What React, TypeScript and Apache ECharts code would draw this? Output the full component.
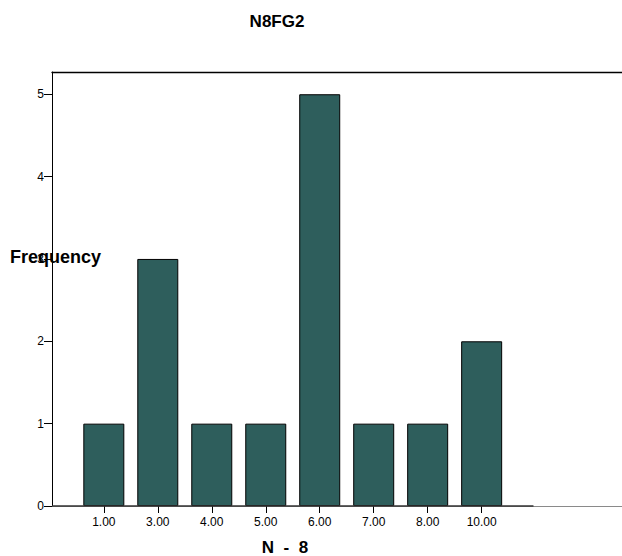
import React, { useEffect, useRef } from "react";
import * as echarts from "echarts";

const categories = ["1.00", "3.00", "4.00", "5.00", "6.00", "7.00", "8.00", "10.00"];
const frequencies = [1, 3, 1, 1, 5, 1, 1, 2];
const yTicks = [0, 1, 2, 3, 4, 5];
const titleText = "N8FG2";
const xTitle = "N  -  8";
const yTitle = "Frequency";

export default function App() {
  const ref = useRef<HTMLDivElement>(null);
  useEffect(() => {
    if (!ref.current) return;
    const chart = echarts.init(ref.current, null, { renderer: "svg" });
    const positions = categories.map((_, i) => i + 1);
    const font = "Liberation Sans, Arial, sans-serif";
    const xMin = 0.04;
    const xMax = 10.6;
    chart.setOption({
      animation: false,
      backgroundColor: "#ffffff",
      grid: { left: 52, top: 72, bottom: 50, right: 0, show: false },
      xAxis: [
        {
          type: "value",
          min: xMin,
          max: xMax,
          axisLine: { show: true, lineStyle: { color: "#8a8a8a", width: 1 } },
          axisTick: { show: true, length: 7, customValues: positions, lineStyle: { color: "#000" } },
          axisLabel: {
            customValues: positions,
            margin: 10,
            color: "#000",
            fontSize: 12,
            fontFamily: font,
            formatter: (v: number) => categories[Math.round(v) - 1] ?? "",
          },
          splitLine: { show: false },
        },
        {
          type: "value",
          position: "top",
          min: xMin,
          max: xMax,
          axisLine: { show: true, lineStyle: { color: "#000", width: 1.3 } },
          axisTick: { show: false },
          axisLabel: { show: false },
          splitLine: { show: false },
        },
      ],
      yAxis: {
        type: "value",
        min: 0,
        max: 5.27,
        interval: 1,
        axisLine: { show: true, lineStyle: { color: "#000", width: 1 } },
        axisTick: { show: true, length: 8, customValues: yTicks, lineStyle: { color: "#000" } },
        axisLabel: { customValues: yTicks, color: "#000", fontSize: 12, fontFamily: font, margin: 8 },
        splitLine: { show: false },
      },
      graphic: [
        {
          type: "text",
          x: 277,
          y: 21,
          style: { text: titleText, font: `bold 17px ${font}`, fill: "#000", align: "center", verticalAlign: "middle" },
        },
        {
          type: "text",
          x: 10,
          y: 257,
          style: { text: yTitle, font: `bold 18px ${font}`, fill: "#000", align: "left", verticalAlign: "middle" },
        },
        {
          type: "text",
          x: 285,
          y: 547,
          style: { text: xTitle, font: `bold 17px ${font}`, fill: "#000", align: "center", verticalAlign: "middle" },
        },
      ],
      series: [
        {
          type: "bar",
          barWidth: 41,
          data: positions.map((p, i) => [p, frequencies[i]]),
          itemStyle: { color: "#2e5e5c", borderColor: "#000", borderWidth: 1 },
          markLine: {
            silent: true,
            symbol: "none",
            label: { show: false },
            lineStyle: { color: "#333", width: 1.5, type: "solid" },
            data: [[{ coord: [xMin, 0] }, { coord: [8.96, 0] }]],
          },
        },
      ],
    });
    return () => chart.dispose();
  }, []);
  return <div ref={ref} style={{ position: "fixed", left: 0, top: 0, width: 622, height: 556 }} />;
}
